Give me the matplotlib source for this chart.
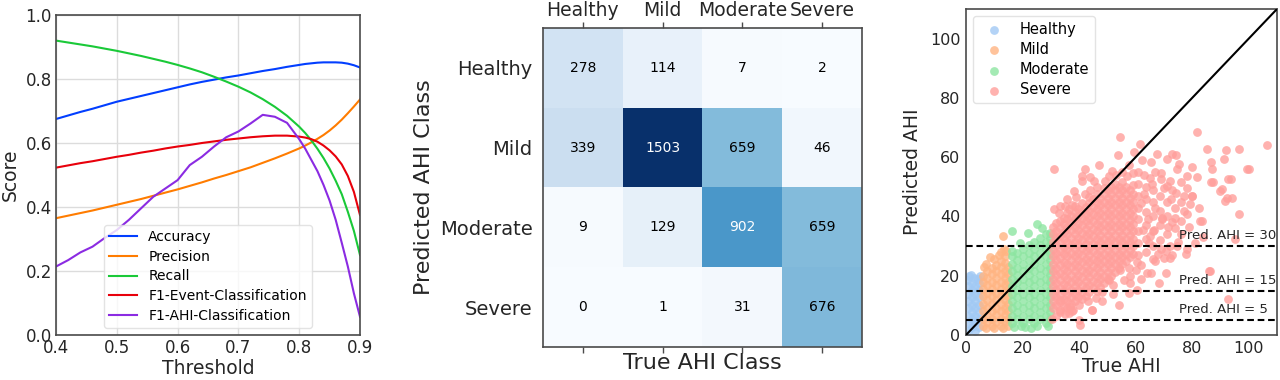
import numpy as np
import matplotlib
matplotlib.use("Agg")
import matplotlib.pyplot as plt

# ---- panel 1: scores vs threshold ----
thresholds = [0.40, 0.42, 0.44, 0.46, 0.48, 0.50, 0.52, 0.54, 0.56, 0.58, 0.60,
              0.62, 0.64, 0.66, 0.68, 0.70, 0.72, 0.74, 0.76, 0.78, 0.80,
              0.81, 0.82, 0.83, 0.84, 0.85, 0.86, 0.87, 0.88, 0.89, 0.90]
accuracy = [0.675, 0.686, 0.697, 0.707, 0.718, 0.729, 0.738, 0.747, 0.756, 0.765, 0.774,
            0.783, 0.791, 0.798, 0.805, 0.811, 0.818, 0.825, 0.831, 0.838, 0.844,
            0.847, 0.849, 0.851, 0.852, 0.852, 0.852, 0.851, 0.848, 0.843, 0.836]
precision = [0.365, 0.373, 0.381, 0.389, 0.398, 0.407, 0.416, 0.425, 0.435, 0.445, 0.455,
             0.466, 0.477, 0.489, 0.500, 0.512, 0.524, 0.538, 0.552, 0.567, 0.583,
             0.592, 0.602, 0.613, 0.625, 0.639, 0.655, 0.673, 0.693, 0.714, 0.736]
recall = [0.920, 0.914, 0.908, 0.902, 0.895, 0.888, 0.880, 0.872, 0.863, 0.854, 0.844,
          0.833, 0.821, 0.807, 0.792, 0.776, 0.758, 0.737, 0.713, 0.685, 0.651,
          0.631, 0.608, 0.582, 0.553, 0.520, 0.482, 0.440, 0.385, 0.325, 0.250]
f1_event = [0.523, 0.530, 0.537, 0.543, 0.550, 0.557, 0.563, 0.570, 0.576, 0.583, 0.589,
            0.594, 0.600, 0.605, 0.610, 0.614, 0.618, 0.621, 0.623, 0.623, 0.620,
            0.617, 0.612, 0.604, 0.592, 0.577, 0.558, 0.533, 0.497, 0.447, 0.375]
f1_ahi = [0.214, 0.234, 0.258, 0.276, 0.303, 0.328, 0.360, 0.396, 0.432, 0.458, 0.484,
          0.531, 0.557, 0.589, 0.618, 0.636, 0.661, 0.688, 0.682, 0.663, 0.612,
          0.582, 0.547, 0.512, 0.469, 0.420, 0.360, 0.288, 0.214, 0.130, 0.057]

# ---- panel 2: confusion matrix (rows = predicted, cols = true) ----
classes = ["Healthy", "Mild", "Moderate", "Severe"]
conf = [[278, 114, 7, 2],
        [339, 1503, 659, 46],
        [9, 129, 902, 659],
        [0, 1, 31, 676]]

# ---- panel 3: true vs predicted AHI ----
# dense parts given column by column: true AHI -> predicted AHI values
healthy_cols = {
    0.7: [1.5, 4, 6.5, 9, 11.5, 14, 16.5],
    2.0: [2.75, 5.25, 7.75, 10.25, 12.75, 15.25, 17.5],
    3.3: [1.5, 4, 6.5, 9, 11.5, 14, 16.5],
    4.6: [2.75, 5.25, 7.75, 10.25, 12.75, 15.25, 17.5],
}
healthy_extra = [(1.2, 19.8), (0.5, 18.5), (2.8, 19.2), (4.2, 18.8), (5.0, 20.0), (1.8, 20.3)]

mild_cols = {
    5.9: [3, 5.5, 8, 10.5, 13, 15.5, 18, 20],
    7.5: [4.25, 6.75, 9.25, 11.75, 14.25, 16.75, 19.25, 21.5],
    9.1: [3, 5.5, 8, 10.5, 13, 15.5, 18, 20.5, 22.5],
    10.7: [4.25, 6.75, 9.25, 11.75, 14.25, 16.75, 19.25, 21.75, 23.5],
    12.3: [3, 5.5, 8, 10.5, 13, 15.5, 18, 20.5, 23, 25],
    13.9: [4.25, 6.75, 9.25, 11.75, 14.25, 16.75, 19.25, 21.75, 24.25, 26.5],
    15.0: [3, 5.5, 8, 10.5, 13, 15.5, 18, 20.5, 23],
}
mild_extra = [(13.1, 33.3), (13.5, 29.0), (14.2, 28.5), (11.8, 27.0), (9.8, 25.5),
              (7.2, 24.0), (12.5, 28.0), (8.5, 26.2), (6.3, 22.8),
              (7.0, 2.2), (10.0, 2.3), (13.0, 2.2)]

moderate_cols = {
    16.2: [4, 6.5, 9, 11.5, 14, 16.5, 19, 21.5, 24, 26.5, 28.5],
    18.2: [5.25, 7.75, 10.25, 12.75, 15.25, 17.75, 20.25, 22.75, 25.25, 27.75],
    20.2: [4, 6.5, 9, 11.5, 14, 16.5, 19, 21.5, 24, 26.5, 29],
    22.2: [5.25, 7.75, 10.25, 12.75, 15.25, 17.75, 20.25, 22.75, 25.25, 27.75, 30.25],
    24.2: [4, 6.5, 9, 11.5, 14, 16.5, 19, 21.5, 24, 26.5, 29, 31.5],
    26.2: [5.25, 7.75, 10.25, 12.75, 15.25, 17.75, 20.25, 22.75, 25.25, 27.75, 30.25, 32.75],
    28.2: [4, 6.5, 9, 11.5, 14, 16.5, 19, 21.5, 24, 26.5, 29, 31.5, 34],
    29.8: [5.25, 7.75, 10.25, 12.75, 15.25, 17.75, 20.25, 22.75, 25.25, 27.75, 30.25, 32.75, 34.5],
}
moderate_extra = [(16.2, 35.1), (25.1, 37.4), (22.1, 34.5), (19.0, 31.0), (27.0, 36.0),
                  (17.0, 2.8), (21.0, 2.6), (25.0, 2.9), (29.0, 3.0), (19.5, 3.2), (23.0, 2.5)]

severe_cols = {
    30.6: [9, 11.5, 14, 16.5, 19, 21.5, 24, 26.5, 29, 31.5, 34, 36.5],
    31.9: [10.2, 12.7, 15.2, 17.7, 20.2, 22.7, 25.2, 27.7, 30.2, 32.7, 35.2, 37.7],
    33.2: [8.5, 11, 13.5, 16, 18.5, 21, 23.5, 26, 28.5, 31, 33.5, 36, 38.5],
    34.5: [9.8, 12.3, 14.8, 17.3, 19.8, 22.3, 24.8, 27.3, 29.8, 32.3, 34.8, 37.3, 39.5],
    35.8: [9, 11.5, 14, 16.5, 19, 21.5, 24, 26.5, 29, 31.5, 34, 36.5, 39, 41],
    37.1: [10.3, 12.8, 15.3, 17.8, 20.3, 22.8, 25.3, 27.8, 30.3, 32.8, 35.3, 37.8, 40.3],
    38.4: [11.5, 14, 16.5, 19, 21.5, 24, 26.5, 29, 31.5, 34, 36.5, 39, 41.5, 43.5],
    39.7: [12.8, 15.3, 17.8, 20.3, 22.8, 25.3, 27.8, 30.3, 32.8, 35.3, 37.8, 40.3, 42.5],
    41.0: [12, 14.5, 17, 19.5, 22, 24.5, 27, 29.5, 32, 34.5, 37, 39.5, 42, 44.5],
    42.3: [13.3, 15.8, 18.3, 20.8, 23.3, 25.8, 28.3, 30.8, 33.3, 35.8, 38.3, 40.8, 43.3],
    43.6: [14.5, 17, 19.5, 22, 24.5, 27, 29.5, 32, 34.5, 37, 39.5, 42, 44.5, 46.5],
    44.9: [15.8, 18.3, 20.8, 23.3, 25.8, 28.3, 30.8, 33.3, 35.8, 38.3, 40.8, 43.3, 45.8],
    46.2: [15, 17.5, 20, 22.5, 25, 27.5, 30, 32.5, 35, 37.5, 40, 42.5, 45, 47.5],
    47.5: [16.3, 18.8, 21.3, 23.8, 26.3, 28.8, 31.3, 33.8, 36.3, 38.8, 41.3, 43.8, 46.3],
    48.8: [17.5, 20, 22.5, 25, 27.5, 30, 32.5, 35, 37.5, 40, 42.5, 45, 47.5, 49.5],
    50.1: [18.8, 21.3, 23.8, 26.3, 28.8, 31.3, 33.8, 36.3, 38.8, 41.3, 43.8, 46.3, 48.8],
    51.4: [20, 22.5, 25, 27.5, 30, 32.5, 35, 37.5, 40, 42.5, 45, 47.5, 50],
    52.7: [21.3, 23.8, 26.3, 28.8, 31.3, 33.8, 36.3, 38.8, 41.3, 43.8, 46.3, 48.8, 51],
    54.0: [22.5, 25, 27.5, 30, 32.5, 35, 37.5, 40, 42.5, 45, 47.5, 50],
    55.3: [23.8, 26.3, 28.8, 31.3, 33.8, 36.3, 38.8, 41.3, 43.8, 46.3, 48.8, 51.5],
    56.6: [25, 27.5, 30, 32.5, 35, 37.5, 40, 42.5, 45, 47.5, 50],
    57.9: [26.3, 28.8, 31.3, 33.8, 36.3, 38.8, 41.3, 43.8, 46.3, 48.8],
    59.2: [27.5, 30, 32.5, 35, 37.5, 40, 42.5, 45, 47.5, 50.5],
    61.0: [27, 31, 35, 39, 43, 47, 51],
    63.5: [28, 32.5, 37, 41.5, 46, 50],
    66.0: [30, 35, 40, 45, 49],
    68.5: [32, 37, 42, 47],
    71.0: [34, 40, 45],
    74.0: [36, 43],
}
severe_extra_true = [40.4, 54.0, 44.6, 68.2, 85.9, 92.8, 70.9, 65.3, 60.5, 57.6, 50.5,
                     54.6, 61.7, 81.8, 85.3, 91.8, 96.6, 106.6, 73.0, 74.1, 67.6, 59.3,
                     53.7, 42.2, 31.0, 41.0, 41.0, 45.1, 65.3, 75.3, 80.0, 86.5, 81.8,
                     87.1, 91.2, 100.1, 93.6, 90.7, 86.5, 92.4, 94.2, 96.6, 82.4, 78.3,
                     75.9, 83.6, 74.7, 77.7, 70.6, 67.0, 64.7, 64.1, 57.6, 54.6, 79.4,
                     77.0, 74.1, 71.2, 68.8, 65.8, 75.9, 78.3, 74.7, 71.2, 62.4, 57.6,
                     51.7, 46.9, 44.0, 38.1, 35.7, 33.3, 31.0, 36.3, 36.9, 37.5, 33.3,
                     33.3, 36.3, 39.8, 44.5, 95.0, 86.3, 99.5, 87.4, 92.7, 89.8, 91.5,
                     82.7, 79.8, 72.0, 69.5, 62.0, 58.0, 48.0, 52.0,
                     # ragged upper edge of the dense cloud
                     33.0, 35.0, 37.5, 39.0, 42.0, 44.0, 46.5, 49.0, 50.5, 53.0, 55.0,
                     57.0, 59.0, 61.0, 63.0, 65.0, 67.0, 69.0, 72.0, 73.0, 76.0, 78.0,
                     80.0, 77.0, 73.0, 76.0, 79.0, 81.0, 78.0, 84.0, 72.0,
                     # ragged lower edge
                     70.0, 68.0, 66.0, 62.0, 60.0, 58.0, 56.0, 52.0, 48.0, 46.0, 43.0,
                     40.0, 38.0, 35.0, 32.0, 30.5,
                     # medium density region right of the core
                     62.0, 64.5, 67.0, 69.5, 70.0, 72.5, 74.0, 75.0, 73.0, 69.0, 65.0,
                     62.5, 60.5, 63.0, 66.5, 71.5]
severe_extra_pred = [3.4, 10.2, 8.5, 17.6, 21.5, 12.2, 20.9, 21.0, 15.2, 14.2, 18.4,
                     66.8, 64.6, 68.5, 62.9, 62.3, 62.9, 64.0, 61.0, 60.6, 61.1, 61.7,
                     60.6, 56.0, 56.0, 53.8, 52.1, 52.0, 58.3, 57.7, 56.6, 58.3, 53.2,
                     56.0, 59.5, 56.0, 52.7, 49.3, 51.6, 46.1, 46.1, 40.8, 42.9, 40.7,
                     38.5, 38.5, 29.9, 27.2, 28.3, 24.9, 31.1, 21.0, 22.6, 22.1, 44.1,
                     46.9, 48.0, 50.4, 52.7, 51.0, 51.6, 53.8, 56.0, 59.5, 58.9, 57.2,
                     55.5, 57.2, 53.2, 48.7, 45.9, 43.6, 42.5, 42.5, 9.5, 8.0, 11.9,
                     7.9, 7.3, 5.0, 8.4, 32.3, 21.5, 56.0, 51.5, 52.6, 48.7, 45.3,
                     38.5, 47.0, 26.0, 39.0, 19.0, 17.5, 11.5, 14.0,
                     41.0, 43.5, 44.0, 46.5, 47.5, 49.0, 50.0, 52.0, 53.5, 54.0, 55.0,
                     53.5, 54.5, 55.0, 54.0, 53.0, 55.0, 54.5, 52.0, 49.0, 45.0, 49.5,
                     47.0, 42.0, 38.0, 34.0, 36.5, 31.0, 29.0, 33.0, 30.0,
                     26.0, 27.5, 25.5, 23.5, 22.0, 20.0, 18.5, 17.0, 14.5, 12.5, 11.5,
                     10.0, 8.5, 7.0, 6.5, 5.5,
                     44.5, 39.0, 43.0, 39.5, 49.5, 46.0, 39.5, 31.5, 27.0, 29.0, 33.5,
                     35.5, 24.5, 47.5, 35.5, 36.5]

pred_thresholds = [5, 15, 30]


def flatten(cols, extra):
    xs = [x for x, ys in cols.items() for _ in ys]
    ys = [y for v in cols.values() for y in v]
    for x, y in extra:
        xs.append(x)
        ys.append(y)
    return xs, ys


def style_axes(ax):
    for s in ax.spines.values():
        s.set_color("#4a4a4a")
        s.set_linewidth(1.2)
    ax.tick_params(colors="#262626", labelcolor="#262626")


def main():
    plt.rcParams["font.family"] = "DejaVu Sans"
    fig = plt.figure(figsize=(12.8, 3.8), dpi=100)

    # panel 1
    ax1 = fig.add_axes([56 / 1280, 45 / 380, 304 / 1280, 320 / 380])
    bright = ["#023eff", "#ff7c00", "#1ac938", "#e8000b", "#8b2be2"]
    names = ["Accuracy", "Precision", "Recall", "F1-Event-Classification", "F1-AHI-Classification"]
    for vals, c, n in zip([accuracy, precision, recall, f1_event, f1_ahi], bright, names):
        ax1.plot(thresholds, vals, color=c, lw=1.5, label=n)
    ax1.set_xlim(0.4, 0.9)
    ax1.set_ylim(0.0, 1.0)
    ax1.set_xticks([0.4, 0.5, 0.6, 0.7, 0.8, 0.9])
    ax1.set_yticks([0.0, 0.2, 0.4, 0.6, 0.8, 1.0])
    ax1.grid(True, color="#dcdcdc", lw=1)
    ax1.set_axisbelow(True)
    style_axes(ax1)
    ax1.tick_params(length=0, labelsize=12, pad=3)
    ax1.set_xlabel("Threshold", fontsize=13.5, color="#262626", labelpad=1)
    ax1.set_ylabel("Score", fontsize=13.5, color="#262626", labelpad=4)
    ax1.legend(loc="lower center", fontsize=10, framealpha=0.8, edgecolor="#dddddd",
               borderaxespad=0.5, labelspacing=0.4)

    # panel 2
    ax2 = fig.add_axes([543 / 1280, 33 / 380, 319 / 1280, 319 / 380])
    cm = np.array(conf)
    ax2.imshow(cm, cmap="Blues", vmin=0, vmax=cm.max(), aspect="auto")
    thresh = (cm.max() + cm.min()) / 2
    for i in range(cm.shape[0]):
        for j in range(cm.shape[1]):
            ax2.text(j, i, str(cm[i, j]), ha="center", va="center", fontsize=10,
                     color="white" if cm[i, j] > thresh else "black")
    ax2.set_xticks(range(len(classes)))
    ax2.set_yticks(range(len(classes)))
    ax2.set_xticklabels(classes)
    ax2.set_yticklabels(classes)
    style_axes(ax2)
    ax2.tick_params(axis="x", top=True, bottom=True, labeltop=True, labelbottom=False,
                    length=4, width=1, color="#4a4a4a", labelsize=13.5, pad=2)
    ax2.tick_params(axis="y", left=False, labelsize=14, pad=4)
    ax2.set_xlabel("True AHI Class", fontsize=16, color="#262626", labelpad=0)
    ax2.set_ylabel("Predicted AHI Class", fontsize=16, color="#262626", labelpad=4)

    # panel 3
    ax3 = fig.add_axes([966 / 1280, 45 / 380, 311 / 1280, 326 / 380])
    pastel = ["#a1c9f4", "#ffb482", "#8de5a1", "#ff9f9b"]
    sev_x, sev_y = flatten(severe_cols, list(zip(severe_extra_true, severe_extra_pred)))
    groups = [flatten(healthy_cols, healthy_extra), flatten(mild_cols, mild_extra),
              flatten(moderate_cols, moderate_extra), (sev_x, sev_y)]
    for (xs, ys), c, n in zip(groups, pastel, classes):
        ax3.scatter(xs, ys, s=40, color=c, alpha=0.8, linewidths=0, label=n, zorder=2)
    ax3.plot([0, 110], [0, 110], color="black", lw=1.5, zorder=3)
    for t in pred_thresholds:
        ax3.axhline(t, color="black", ls="--", lw=1.5, dashes=(3.2, 1.8), zorder=3)
        ax3.text(75.2, t + 1.3, "Pred. AHI = %d" % t, fontsize=9.5, color="#262626",
                 ha="left", va="bottom", zorder=4)
    ax3.set_xlim(0, 110)
    ax3.set_ylim(0, 110)
    ax3.set_xticks([0, 20, 40, 60, 80, 100])
    ax3.set_yticks([0, 20, 40, 60, 80, 100])
    style_axes(ax3)
    ax3.tick_params(length=0, labelsize=11.5, pad=4)
    ax3.set_xlabel("True AHI", fontsize=13.5, color="#262626", labelpad=1)
    ax3.set_ylabel("Predicted AHI", fontsize=13.5, color="#262626", labelpad=6)
    leg = ax3.legend(loc="upper left", fontsize=10.5, framealpha=0.8, edgecolor="#dddddd",
                     labelspacing=0.35)
    for h in leg.legend_handles:
        h.set_alpha(0.8)

    fig.savefig("out.png", dpi=100)
    plt.close()


if __name__ == "__main__":
    main()
